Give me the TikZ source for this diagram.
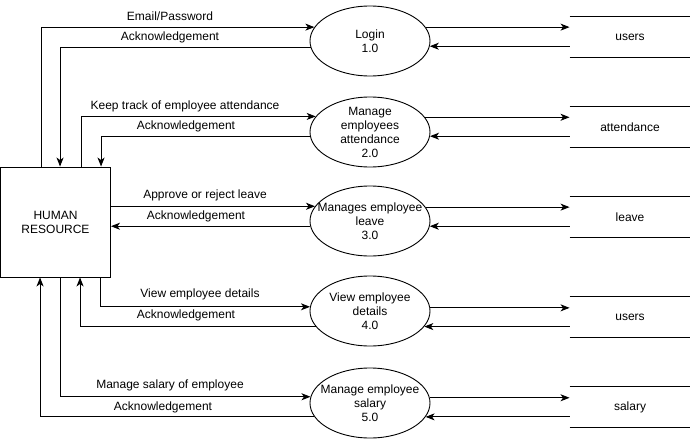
\documentclass[tikz,border=0pt]{standalone}
\usepackage{fontspec}
\setmainfont{Liberation Sans}
\usetikzlibrary{arrows.meta,shapes.geometric}
\begin{document}
\begin{tikzpicture}[x=1pt,y=-1pt,
  font=\fontsize{12}{14}\selectfont,
  line width=0.9pt,
  flow/.style={-{Stealth[length=9pt,width=7pt,inset=2.5pt]}},
  process/.style={draw,ellipse,minimum width=120pt,minimum height=70pt,inner sep=0pt},
  ptext/.style={align=center,inner sep=0pt},
  entity/.style={draw,rectangle,minimum width=110pt,minimum height=110pt,inner sep=0pt,align=center},
  store/.style={minimum width=120pt,minimum height=40pt,inner sep=0pt},
  lbl/.style={inner sep=0pt}]
\useasboundingbox (0,0) rectangle (693,439);

% external entity
\node[entity] (hr) at (55.5,222) {HUMAN\\RESOURCE};

% processes: fixed-size ellipses with their captions on top
\node[process] (login) at (370,41)  {};
\node[process] (att)   at (370,132) {};
\node[process] (leave) at (370,221) {};
\node[process] (view)  at (370,311) {};
\node[process] (sal)   at (370,403) {};
\node[ptext] (tlogin) at (login.center) {Login\\1.0};
\node[ptext] (tatt)   at (att.center)   {Manage\\employees\\attendance\\2.0};
\node[ptext] (tleave) at (leave.center) {Manages employee\\leave\\3.0};
\node[ptext] (tview)  at (view.center)  {View employee\\details\\4.0};
\node[ptext] (tsal)   at (sal.center)   {Manage employee\\salary\\5.0};

% data stores
\node[store] (dsusers) at (630,37)  {users};
\node[store] (dsatt)   at (630,127) {attendance};
\node[store] (dsleave) at (630,217) {leave};
\node[store] (dsview)  at (630,317) {users};
\node[store] (dssal)   at (630,407) {salary};
\foreach \s in {dsusers,dsatt,dsleave,dsview,dssal}{
  \draw (\s.north west) -- (\s.north east);
  \draw (\s.south west) -- (\s.south east);
}

% process <-> data store flows
\draw[flow] (login.14.3) -- (login.14.3 -| dsusers.west);
\draw[flow] (dsusers.west |- login.-5.8) -- (login.-5.8);
\draw[flow] (att.15.5) -- (att.15.5 -| dsatt.west);
\draw[flow] (dsatt.west |- att.-4.8) -- (att.-4.8);
\draw[flow] (leave.14.3) -- (leave.14.3 -| dsleave.west);
\draw[flow] (dsleave.west |- leave.-5.8) -- (leave.-5.8);
\draw[flow] (view.3.8) -- (view.3.8 -| dsview.west);
\draw[flow] (dsview.west |- view.-16.7) -- (view.-16.7);
\draw[flow] (sal.5.8) -- (sal.5.8 -| dssal.west);
\draw[flow] (dssal.west |- sal.-14.3) -- (sal.-14.3);

% entity <-> process flows
\draw[flow] ([xshift=41pt]hr.north west) |- (login.166.9);
\draw[flow] (login.186) -| ([xshift=60pt]hr.north west);
\draw[flow] ([xshift=81pt]hr.north west) |- (att.164.5);
\draw[flow] (att.184.8) -| ([xshift=101pt]hr.north west);
\draw[flow] (hr.east |- leave.165.7) -- (leave.165.7);
\draw[flow] (leave.185.8) -- (leave.185.8 -| hr.east);
\draw[flow] ([xshift=100pt]hr.south west) |- (view.176.2);
\draw[flow] (view.196.7) -| ([xshift=80pt]hr.south west);
\draw[flow] ([xshift=60pt]hr.south west) |- (sal.174.2);
\draw[flow] (sal.194.3) -| ([xshift=40pt]hr.south west);

% flow labels
\node[lbl] (l1a) at (170,16)  {Email/Password};
\node[lbl] (l1b) at (170,37)  {Acknowledgement};
\node[lbl] (l2a) at (185,106) {Keep track of employee attendance};
\node[lbl] (l2b) at (186,126) {Acknowledgement};
\node[lbl] (l3a) at (205,195) {Approve or reject leave};
\node[lbl] (l3b) at (196,216) {Acknowledgement};
\node[lbl] (l4a) at (200,294) {View employee details};
\node[lbl] (l4b) at (186,315) {Acknowledgement};
\node[lbl] (l5a) at (170,385) {Manage salary of employee};
\node[lbl] (l5b) at (163,407) {Acknowledgement};
\end{tikzpicture}
\end{document}
